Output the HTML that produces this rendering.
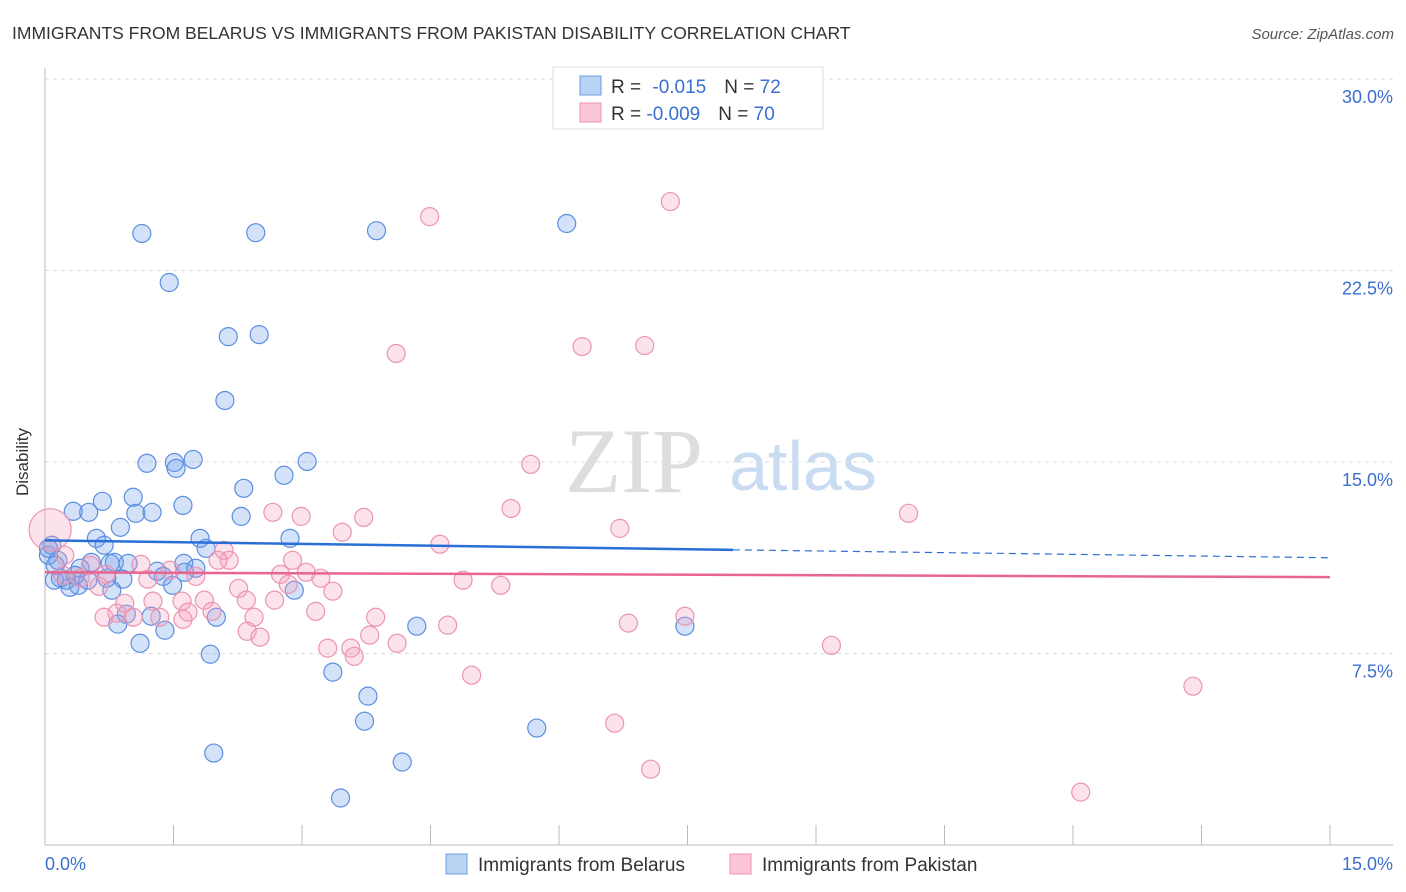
<!DOCTYPE html>
<html><head><meta charset="utf-8"><style>
body{margin:0;background:#fff;font-family:"Liberation Sans",sans-serif;}
svg{display:block}
</style></head><body>
<svg id="chart" width="1406" height="892" xmlns="http://www.w3.org/2000/svg">
<text x="12" y="39" font-size="17.5" fill="#333">IMMIGRANTS FROM BELARUS VS IMMIGRANTS FROM PAKISTAN DISABILITY CORRELATION CHART</text>
<text x="1394" y="39" font-size="15" fill="#555" font-style="italic" text-anchor="end">Source: ZipAtlas.com</text>
<g>
<text x="634" y="492" font-size="92" fill="#ddd" font-family="Liberation Serif,serif" text-anchor="middle">ZIP</text>
<text x="803" y="490" font-size="70" fill="#c9dcf2" text-anchor="middle">atlas</text>
</g>
<g id="grid"></g>
<g id="axes"></g>
<g id="points"></g>
<g id="trends"></g>
<g>
<rect x="553" y="67" width="270" height="62" fill="#fff" stroke="#ddd"/>
<rect x="580" y="76" width="21" height="19" fill="#b9d3f5" stroke="#6c9ee0"/>
<rect x="580" y="103" width="21" height="19" fill="#fbc6d6" stroke="#ec94b0"/>
<text x="611" y="93" font-size="19" fill="#333">R = <tspan fill="#3a6fd0" dx="6">-0.015</tspan><tspan fill="#333" dx="18">N = </tspan><tspan fill="#3a6fd0">72</tspan></text>
<text x="611" y="120" font-size="19" fill="#333">R = <tspan fill="#3a6fd0">-0.009</tspan><tspan fill="#333" dx="18">N = </tspan><tspan fill="#3a6fd0">70</tspan></text>
</g>
<g>
<rect x="446" y="854" width="21" height="20" fill="#b9d3f5" stroke="#6c9ee0"/>
<text x="478" y="871" font-size="19" fill="#333">Immigrants from Belarus</text>
<rect x="730" y="854" width="21" height="20" fill="#fbc6d6" stroke="#ec94b0"/>
<text x="762" y="871" font-size="19" fill="#333">Immigrants from Pakistan</text>
</g>
<text x="22" y="456" font-size="17" fill="#333" transform="rotate(-90 28 456)" text-anchor="middle">Disability</text>
</svg>
<script>
const yTicks=[7.5,15,22.5,30];
const yTickLabels=["7.5%","15.0%","22.5%","30.0%"];
const xTicks=[0,1.5,3,4.5,6,7.5,9,10.5,12,13.5,15];
const xEndLabels=["0.0%","15.0%"];
const belarusX=[1.13,2.46,3.87,6.09,1.45,2.14,2.50,2.10,1.19,1.51,1.73,1.53,3.06,2.79,2.32,1.03,0.67,1.61,0.33,0.51,1.06,1.25,2.29,0.88,0.60,1.81,2.86,0.08,0.69,1.88,0.04,0.15,0.54,0.81,0.97,1.62,1.76,1.31,1.38,0.12,0.41,0.76,0.18,0.25,0.39,0.91,0.11,0.29,0.72,0.78,2.91,1.49,0.95,1.24,2.00,0.85,4.34,7.47,1.40,1.11,1.93,3.36,3.77,3.73,5.74,1.97,4.17,3.45,0.04,0.35,0.50,1.63];
const belarusY=[23.95,23.98,24.06,24.34,22.03,19.91,19.99,17.41,14.95,14.98,15.10,14.75,15.02,14.48,13.97,13.62,13.46,13.30,13.07,13.03,12.99,13.03,12.87,12.44,12.01,12.01,12.01,11.74,11.74,11.62,11.35,11.15,11.07,11.07,11.03,11.03,10.84,10.72,10.52,10.95,10.84,11.03,10.45,10.37,10.17,10.41,10.37,10.09,10.45,9.98,9.98,10.17,9.04,8.96,8.92,8.65,8.57,8.57,8.41,7.90,7.47,6.77,5.83,4.85,4.58,3.60,3.25,1.84,11.62,10.56,10.37,10.68];
const pakistanX=[4.49,7.30,4.10,6.27,7.00,5.67,5.44,10.08,2.66,2.99,3.72,6.71,3.47,4.61,2.89,2.09,2.15,2.02,1.12,0.41,0.21,0.71,0.63,1.20,1.46,1.76,2.75,3.05,3.22,4.88,5.32,2.26,3.36,2.84,0.93,1.26,1.60,1.86,2.35,2.68,3.16,3.86,0.69,1.03,0.84,1.34,1.61,1.67,1.95,2.44,2.36,2.51,3.30,3.57,3.61,3.79,4.11,4.70,6.81,7.47,9.18,4.98,13.40,6.65,7.07,12.09,0.23,0.53,0.06];
const pakistanY=[24.61,25.20,19.25,19.52,19.56,14.91,13.18,12.99,13.03,12.87,12.83,12.40,12.25,11.78,11.15,11.54,11.15,11.15,10.99,10.45,10.56,10.60,10.13,10.41,10.76,10.52,10.60,10.68,10.45,10.37,10.17,10.05,9.94,10.21,9.47,9.55,9.55,9.59,9.59,9.59,9.15,8.92,8.92,8.92,9.08,8.92,8.84,9.12,9.15,8.92,8.37,8.14,7.71,7.71,7.39,8.22,7.90,8.61,8.69,8.96,7.82,6.65,6.22,4.77,2.97,2.07,11.35,10.95,12.35];
const pakistanBig=[0,0,0,0,0,0,0,0,0,0,0,0,0,0,0,0,0,0,0,0,0,0,0,0,0,0,0,0,0,0,0,0,0,0,0,0,0,0,0,0,0,0,0,0,0,0,0,0,0,0,0,0,0,0,0,0,0,0,0,0,0,0,0,0,0,0,0,0,1];
const belarusTrend=[11.93,11.56,11.25]; // at x=0, 8.03, 15
const trendBreakX=8.03;
const pakistanTrend=[10.68,10.49];

const X0=45,X1=1330,Y0=845,Y30=79;
const xs=v=>X0+(X1-X0)*v/15;
const ys=v=>Y0-(Y0-Y30)*v/30;
const NS="http://www.w3.org/2000/svg";
function mk(tag,attrs,parent){const e=document.createElementNS(NS,tag);for(const k in attrs)e.setAttribute(k,attrs[k]);parent.appendChild(e);return e;}
const grid=document.getElementById('grid'),axes=document.getElementById('axes'),pts=document.getElementById('points'),tr=document.getElementById('trends');
yTicks.forEach((t,i)=>{
 const l=mk('line',{x1:X0,x2:1393,y1:ys(t),y2:ys(t),stroke:'#ddd','stroke-dasharray':'4,4'},grid);
 
 
 const tx=mk('text',{x:1393,y:ys(t)+24,'font-size':18,fill:'#3a6fd0','text-anchor':'end'},axes);
 tx.textContent=yTickLabels[i];
 
 
});
const ya=mk('line',{x1:X0,x2:X0,y1:68,y2:Y0,stroke:'#bbb'},axes);


const xa=mk('line',{x1:X0,x2:1393,y1:Y0,y2:Y0,stroke:'#bbb'},axes);


xTicks.forEach(t=>{
 const l=mk('line',{x1:xs(t),x2:xs(t),y1:Y0,y2:Y0-20,stroke:'#bbb'},axes);
 
 
});
const xl0=mk('text',{x:45,y:870,'font-size':18,fill:'#3a6fd0'},axes);xl0.textContent=xEndLabels[0];


const xl1=mk('text',{x:1393,y:870,'font-size':18,fill:'#3a6fd0','text-anchor':'end'},axes);xl1.textContent=xEndLabels[1];


belarusX.forEach((x,i)=>{
 const c=mk('circle',{cx:xs(x),cy:ys(belarusY[i]),r:9,fill:'rgba(110,160,235,0.3)',stroke:'#5b8ee0','stroke-width':1.2},pts);
 
 
});
pakistanX.forEach((x,i)=>{
 const c=mk('circle',{cx:xs(x),cy:ys(pakistanY[i]),r:pakistanBig[i]?21:9,fill:'rgba(245,160,190,0.3)',stroke:'#ec94b0','stroke-width':1.2},pts);
 
 
});
const bt=mk('line',{x1:xs(0),y1:ys(belarusTrend[0]),x2:xs(trendBreakX),y2:ys(belarusTrend[1]),stroke:'#2a6fd6','stroke-width':2.5},tr);


const bd=mk('line',{x1:xs(trendBreakX),y1:ys(belarusTrend[1]),x2:xs(15),y2:ys(belarusTrend[2]),stroke:'#2a6fd6','stroke-width':1.2,'stroke-dasharray':'7,5'},tr);


const pt=mk('line',{x1:xs(0),y1:ys(pakistanTrend[0]),x2:xs(15),y2:ys(pakistanTrend[1]),stroke:'#e8658f','stroke-width':2.5},tr);


</script>
</body></html>
